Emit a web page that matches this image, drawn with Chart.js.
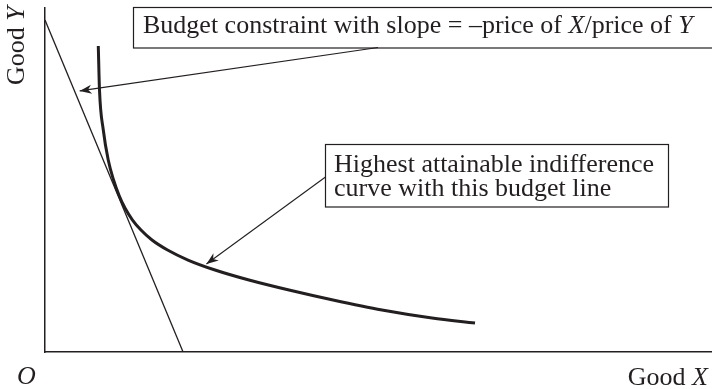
<!DOCTYPE html>
<html lang="en">
<head>
  <meta charset="UTF-8" />
  <title>Consumer equilibrium</title>
  <script src="https://cdn.jsdelivr.net/npm/chart.js"></script>
  <style>
    html, body { margin: 0; padding: 0; background: #fff; }
    canvas { display: block; }
  </style>
</head>
<body>

<canvas id="chartCanvas" width="712" height="389"></canvas>

<script>
  // budget line: intercepts
  const budgetX = [0, 20.7];
  const budgetY = [96.5, 0];

  // indifference curve points
  const curveX = [7.99, 8.17, 8.74, 9.48, 10.28, 11.08, 11.99, 13.12, 14.39, 16.04, 18.37, 21.44, 25.49, 30.58, 36.58, 43.18, 50.52, 58.02, 64.47];
  const curveY = [88.95, 76.16, 64.53, 55.81, 50.0, 45.64, 41.86, 38.37, 35.47, 32.56, 29.65, 26.74, 23.84, 20.93, 18.02, 15.12, 12.21, 9.88, 8.43];

  // where the two arrows point (data units)
  const budgetArrowTip = [5.2, 75.9];
  const curveArrowTip = [24.2, 25.6];

  const ink = '#231f20';
  const serif = '"Liberation Serif", "Times New Roman", serif';
  const ctx = document.getElementById('chartCanvas').getContext('2d');

  function toPoints(xs, ys) {
    return xs.map((x, i) => ({ x, y: ys[i] }));
  }

  // draws a run of [text, italic] pieces starting at x
  function drawRuns(c, runs, x, y, size) {
    runs.forEach(([t, it]) => {
      c.font = (it ? 'italic ' : '') + size + 'px ' + serif;
      c.fillText(t, x, y);
      x += c.measureText(t).width;
    });
  }

  function runsWidth(c, runs, size) {
    let w = 0;
    runs.forEach(([t, it]) => {
      c.font = (it ? 'italic ' : '') + size + 'px ' + serif;
      w += c.measureText(t).width;
    });
    return w;
  }

  function arrow(c, x1, y1, x2, y2) {
    c.beginPath();
    c.moveTo(x1, y1);
    c.lineTo(x2, y2);
    c.stroke();
    const a = Math.atan2(y2 - y1, x2 - x1);
    const len = 12, half = 4.5;
    c.save();
    c.translate(x2, y2);
    c.rotate(a);
    c.beginPath();
    c.moveTo(0, 0);
    c.lineTo(-len, -half);
    c.lineTo(-len * 0.7, 0);
    c.lineTo(-len, half);
    c.closePath();
    c.fill();
    c.restore();
  }

  const labels = {
    id: 'labels',
    afterDraw(chart) {
      const c = chart.ctx;
      const sx = chart.scales.x, sy = chart.scales.y;
      const size = 26;
      c.save();
      c.fillStyle = ink;
      c.strokeStyle = ink;
      c.textBaseline = 'alphabetic';

      // boxes
      c.lineWidth = 1.2;
      c.strokeRect(133.5, 7.5, 600, 40.5);
      c.strokeRect(325.5, 144.5, 343, 62.5);

      drawRuns(c, [['Budget constraint with slope = \u2013price of ', false], ['X', true], ['/price of ', false], ['Y', true]], 143, 33, size);
      drawRuns(c, [['Highest attainable indifference', false]], 334, 172, size);
      drawRuns(c, [['curve with this budget line', false]], 334, 196, size);

      // arrows
      c.lineWidth = 1.1;
      arrow(c, 378, 47.5, sx.getPixelForValue(budgetArrowTip[0]), sy.getPixelForValue(budgetArrowTip[1]));
      arrow(c, 325.5, 177, sx.getPixelForValue(curveArrowTip[0]), sy.getPixelForValue(curveArrowTip[1]));

      // axis labels
      drawRuns(c, [['O', true]], 17, 384, size);
      const gx = [['Good ', false], ['X', true]];
      drawRuns(c, gx, 708 - runsWidth(c, gx, size), 385, size);

      const gy = [['Good ', false], ['Y', true]];
      c.translate(24, 85);
      c.rotate(-Math.PI / 2);
      drawRuns(c, gy, 0, 0, size);
      c.restore();
    }
  };

  new Chart(ctx, {
    type: 'scatter',
    data: {
      datasets: [
        {
          label: 'Budget constraint',
          data: toPoints(budgetX, budgetY),
          showLine: true,
          borderColor: ink,
          borderWidth: 1.3,
          pointRadius: 0
        },
        {
          label: 'Indifference curve',
          data: toPoints(curveX, curveY),
          showLine: true,
          borderColor: ink,
          borderWidth: 3,
          pointRadius: 0,
          cubicInterpolationMode: 'monotone'
        }
      ]
    },
    options: {
      responsive: false,
      animation: false,
      layout: { padding: { left: 45, right: 0, top: 8, bottom: 37 } },
      scales: {
        x: {
          type: 'linear', min: 0, max: 100,
          ticks: { display: false },
          grid: { display: false, drawTicks: false },
          border: { display: true, color: ink, width: 1.5 }
        },
        y: {
          type: 'linear', min: 0, max: 100,
          ticks: { display: false },
          grid: { display: false, drawTicks: false },
          border: { display: true, color: ink, width: 1.5 }
        }
      },
      plugins: {
        legend: { display: false },
        tooltip: { enabled: false }
      }
    },
    plugins: [labels]
  });
</script>

</body>
</html>
